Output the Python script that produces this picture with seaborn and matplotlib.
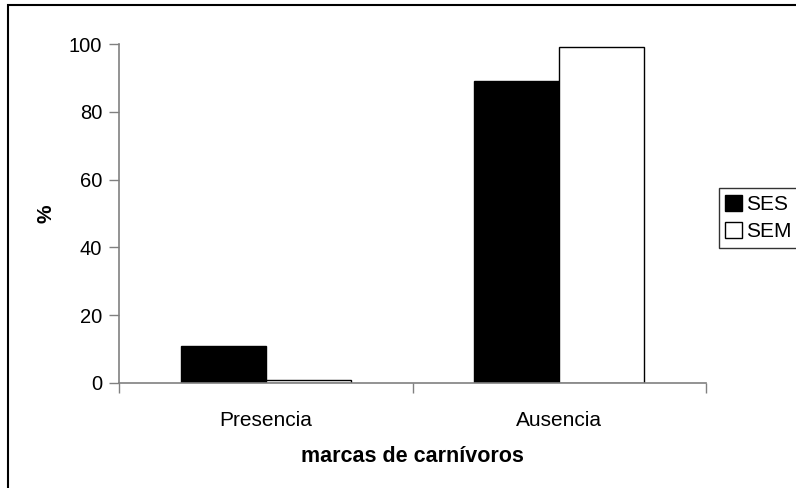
import matplotlib
matplotlib.use("Agg")
import matplotlib.pyplot as plt
import seaborn as sns
import pandas as pd
from matplotlib.patches import Rectangle

categories = ["Presencia", "Ausencia"]
series_names = ["SES", "SEM"]
ses_values = [11, 89]
sem_values = [1, 99]
y_ticks = [0, 20, 40, 60, 80, 100]

df = pd.DataFrame({
    "cat": categories * 2,
    "serie": [series_names[0]] * 2 + [series_names[1]] * 2,
    "val": ses_values + sem_values,
})

sns.set_style("white")
plt.rcParams['font.family'] = ['Liberation Sans', 'DejaVu Sans']
plt.rcParams['text.color'] = 'black'
plt.rcParams['axes.labelcolor'] = 'black'
plt.rcParams['xtick.color'] = 'black'
plt.rcParams['ytick.color'] = 'black'

fig = plt.figure(figsize=(7.96, 4.88), dpi=100)
ax = fig.add_axes([119/796, 1-383/488, 587/796, 339/488])

sns.barplot(data=df, x="cat", y="val", hue="serie", order=categories,
            hue_order=series_names, palette={"SES": "black", "SEM": "white"},
            edgecolor="black", linewidth=1.0, width=0.58, ax=ax, legend=False)

ax.set_xlim(-0.5, 1.5)
ax.set_ylim(0, 100)
ax.set_yticks(y_ticks)
ax.set_yticklabels([str(v) for v in y_ticks], fontsize=14.5)
ax.tick_params(axis="y", direction="out", length=7, width=1, color="#808080",
               labelcolor="black", pad=5, left=True)
ax.tick_params(axis="x", which="major", length=0, pad=20, labelsize=15, labelcolor="black")
ax.set_xticks([-0.5, 0.5, 1.5], minor=True)
ax.tick_params(axis="x", which="minor", direction="out", length=7, width=1, color="#808080", bottom=True)

for s in ["top", "right"]:
    ax.spines[s].set_visible(False)
for s in ["left", "bottom"]:
    ax.spines[s].set_color("#808080")
    ax.spines[s].set_linewidth(1.2)

ax.set_xlabel("marcas de carnívoros", fontsize=15.5, fontweight="bold", labelpad=12, color="black")
ax.set_ylabel("%", fontsize=15, fontweight="bold", labelpad=10, color="black")

handles = [Rectangle((0, 0), 1, 1, facecolor="black", edgecolor="black"),
           Rectangle((0, 0), 1, 1, facecolor="white", edgecolor="black")]
leg = fig.legend(handles, series_names, loc="center left",
                 bbox_to_anchor=(719/796, 1-218/488), fontsize=15,
                 frameon=True, fancybox=False, handlelength=0.8, handleheight=0.8,
                 handletextpad=0.2, borderpad=0.3, labelspacing=0.4, borderaxespad=0)
leg.get_frame().set_edgecolor("black")
leg.get_frame().set_linewidth(1.0)

fig.patches.append(Rectangle((8/796, -0.2), 1.2, 1 - 5/488 + 0.2, transform=fig.transFigure,
                             fill=False, edgecolor="black", linewidth=1.5))

fig.savefig("out.png", dpi=100)
